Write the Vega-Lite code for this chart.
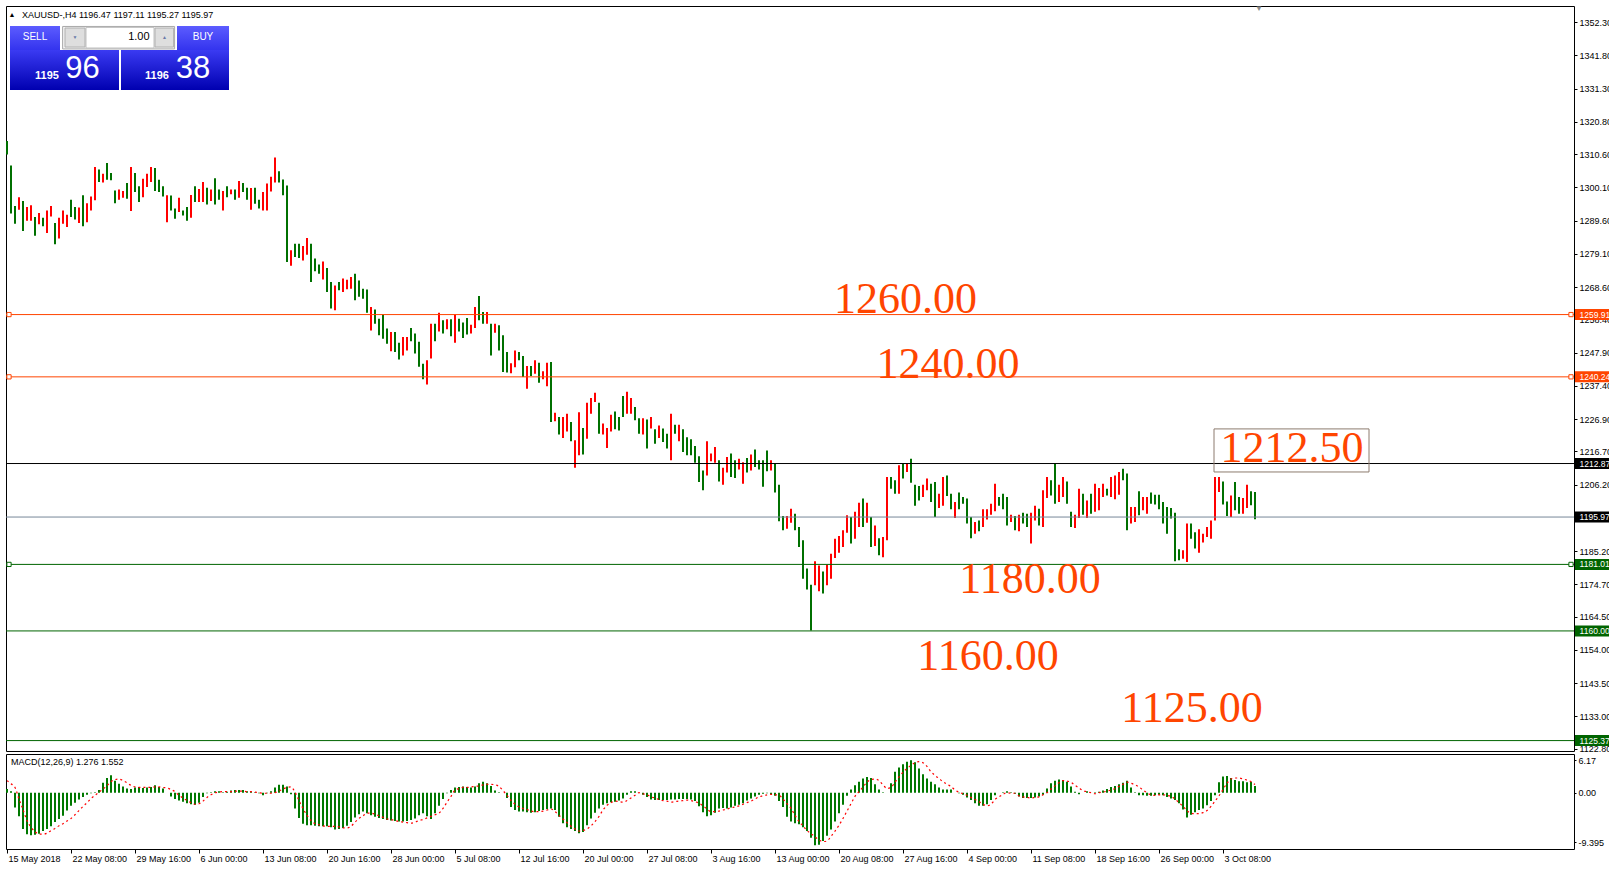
{
"$schema":"https://vega.github.io/schema/vega-lite/v6.json",
"background":"white",
"padding":{"left":4,"top":4,"right":0,"bottom":0},
"spacing":3,
"bounds":"flush",
"config":{"view":{"stroke":"#000000","strokeWidth":1},"axis":{"labelFont":"Liberation Sans","labelFontSize":9,"labelColor":"#000000","tickColor":"#000000","domain":false,"grid":false,"labelOverlap":false,"labelSeparation":0},"axisY":{"labelOverlap":false},"text":{"font":"Liberation Sans"}},
"datasets":{
"levels":[
{"price":1259.91,"kind":"target","sel":true},
{"price":1240.24,"kind":"target","sel":true},
{"price":1212.87,"kind":"level","sel":false},
{"price":1195.97,"kind":"bid","sel":false},
{"price":1181.01,"kind":"support","sel":true},
{"price":1160.00,"kind":"support","sel":false},
{"price":1125.37,"kind":"support","sel":false}],
"notes":[
{"note":"1260.00","i":449.3,"p":1264.5},
{"note":"1240.00","i":470.5,"p":1244.0},
{"note":"1212.50","i":642.5,"p":1217.3},
{"note":"1180.00","i":511.5,"p":1176.2},
{"note":"1160.00","i":490.5,"p":1151.7},
{"note":"1125.00","i":592.5,"p":1135.3}],
"bars":[
{"i":0,"hi":1314.7,"lo":1310.5,"dir":"dn","macd":0.7,"signal":2.3},
{"i":2,"hi":1307.0,"lo":1291.8,"dir":"dn","macd":0.3,"signal":1.7},
{"i":4,"hi":1294.2,"lo":1288.6,"dir":"dn","macd":-2.8,"signal":1.0},
{"i":6,"hi":1297.0,"lo":1293.0,"dir":"up","macd":-4.5,"signal":-1.2},
{"i":8,"hi":1295.8,"lo":1286.3,"dir":"dn","macd":-6.9,"signal":-3.2},
{"i":10,"hi":1293.9,"lo":1289.5,"dir":"up","macd":-7.9,"signal":-5.3},
{"i":12,"hi":1294.4,"lo":1289.5,"dir":"up","macd":-8.1,"signal":-6.6},
{"i":14,"hi":1290.7,"lo":1284.8,"dir":"dn","macd":-8.0,"signal":-7.4},
{"i":16,"hi":1292.0,"lo":1288.4,"dir":"up","macd":-7.8,"signal":-7.9},
{"i":18,"hi":1290.5,"lo":1287.8,"dir":"dn","macd":-7.3,"signal":-7.9},
{"i":20,"hi":1292.8,"lo":1285.7,"dir":"up","macd":-6.9,"signal":-7.7},
{"i":22,"hi":1294.2,"lo":1290.9,"dir":"up","macd":-6.4,"signal":-7.2},
{"i":24,"hi":1288.8,"lo":1282.1,"dir":"dn","macd":-5.6,"signal":-6.8},
{"i":26,"hi":1290.5,"lo":1283.9,"dir":"up","macd":-5.0,"signal":-6.3},
{"i":28,"hi":1292.8,"lo":1288.6,"dir":"up","macd":-4.4,"signal":-5.9},
{"i":30,"hi":1291.4,"lo":1287.6,"dir":"up","macd":-3.4,"signal":-5.4},
{"i":32,"hi":1296.2,"lo":1290.7,"dir":"dn","macd":-2.5,"signal":-4.9},
{"i":34,"hi":1293.9,"lo":1289.9,"dir":"dn","macd":-1.9,"signal":-4.2},
{"i":36,"hi":1293.7,"lo":1288.8,"dir":"up","macd":-1.3,"signal":-3.4},
{"i":38,"hi":1297.6,"lo":1287.8,"dir":"dn","macd":-0.8,"signal":-2.6},
{"i":40,"hi":1295.1,"lo":1289.1,"dir":"up","macd":-0.4,"signal":-1.9},
{"i":42,"hi":1297.2,"lo":1292.8,"dir":"up","macd":-0.1,"signal":-1.1},
{"i":44,"hi":1306.5,"lo":1296.0,"dir":"up","macd":0.1,"signal":-0.5},
{"i":46,"hi":1305.7,"lo":1301.8,"dir":"dn","macd":0.5,"signal":0.1},
{"i":48,"hi":1304.4,"lo":1301.6,"dir":"up","macd":1.9,"signal":0.7},
{"i":50,"hi":1307.8,"lo":1302.5,"dir":"dn","macd":2.8,"signal":1.3},
{"i":52,"hi":1304.6,"lo":1302.3,"dir":"dn","macd":3.3,"signal":2.1},
{"i":54,"hi":1299.1,"lo":1295.1,"dir":"dn","macd":2.3,"signal":2.5},
{"i":56,"hi":1299.4,"lo":1296.2,"dir":"up","macd":1.7,"signal":2.6},
{"i":58,"hi":1298.9,"lo":1296.8,"dir":"up","macd":1.2,"signal":2.3},
{"i":60,"hi":1301.5,"lo":1296.5,"dir":"dn","macd":0.8,"signal":1.9},
{"i":62,"hi":1306.5,"lo":1292.6,"dir":"up","macd":0.7,"signal":1.4},
{"i":64,"hi":1304.6,"lo":1298.6,"dir":"dn","macd":1.0,"signal":1.1},
{"i":66,"hi":1300.4,"lo":1295.5,"dir":"dn","macd":1.1,"signal":1.0},
{"i":68,"hi":1302.8,"lo":1297.0,"dir":"up","macd":0.9,"signal":1.0},
{"i":70,"hi":1304.4,"lo":1300.2,"dir":"up","macd":1.0,"signal":1.0},
{"i":72,"hi":1306.5,"lo":1301.8,"dir":"up","macd":1.1,"signal":1.0},
{"i":74,"hi":1306.2,"lo":1298.9,"dir":"dn","macd":1.4,"signal":1.1},
{"i":76,"hi":1302.5,"lo":1298.6,"dir":"dn","macd":1.1,"signal":1.1},
{"i":78,"hi":1300.4,"lo":1297.2,"dir":"dn","macd":0.8,"signal":1.0},
{"i":80,"hi":1297.6,"lo":1289.1,"dir":"up","macd":0.0,"signal":0.9},
{"i":82,"hi":1297.5,"lo":1292.8,"dir":"dn","macd":-0.7,"signal":0.6},
{"i":84,"hi":1293.4,"lo":1290.2,"dir":"dn","macd":-1.2,"signal":0.2},
{"i":86,"hi":1296.8,"lo":1292.3,"dir":"up","macd":-1.5,"signal":-0.5},
{"i":88,"hi":1292.8,"lo":1291.2,"dir":"dn","macd":-1.7,"signal":-1.0},
{"i":90,"hi":1293.9,"lo":1289.5,"dir":"dn","macd":-2.0,"signal":-1.5},
{"i":92,"hi":1297.7,"lo":1290.5,"dir":"up","macd":-2.2,"signal":-1.9},
{"i":94,"hi":1300.4,"lo":1295.5,"dir":"dn","macd":-2.3,"signal":-2.2},
{"i":96,"hi":1299.6,"lo":1295.5,"dir":"up","macd":-1.9,"signal":-2.1},
{"i":98,"hi":1301.8,"lo":1295.5,"dir":"up","macd":-0.8,"signal":-1.6},
{"i":100,"hi":1300.0,"lo":1294.7,"dir":"dn","macd":-0.1,"signal":-0.9},
{"i":102,"hi":1299.4,"lo":1295.8,"dir":"up","macd":0.1,"signal":-0.4},
{"i":104,"hi":1303.0,"lo":1294.7,"dir":"dn","macd":0.3,"signal":0.0},
{"i":106,"hi":1299.4,"lo":1296.2,"dir":"dn","macd":0.3,"signal":0.1},
{"i":108,"hi":1298.9,"lo":1292.8,"dir":"up","macd":0.1,"signal":0.2},
{"i":110,"hi":1300.4,"lo":1297.0,"dir":"dn","macd":0.2,"signal":0.2},
{"i":112,"hi":1299.4,"lo":1297.9,"dir":"up","macd":0.4,"signal":0.2},
{"i":114,"hi":1299.4,"lo":1296.2,"dir":"dn","macd":0.5,"signal":0.3},
{"i":116,"hi":1302.1,"lo":1296.8,"dir":"up","macd":0.5,"signal":0.3},
{"i":118,"hi":1301.5,"lo":1298.6,"dir":"dn","macd":0.5,"signal":0.3},
{"i":120,"hi":1300.0,"lo":1296.2,"dir":"dn","macd":0.3,"signal":0.2},
{"i":122,"hi":1299.9,"lo":1293.0,"dir":"up","macd":0.2,"signal":0.2},
{"i":124,"hi":1300.0,"lo":1294.9,"dir":"dn","macd":0.1,"signal":0.1},
{"i":126,"hi":1296.2,"lo":1293.4,"dir":"dn","macd":-0.1,"signal":0.0},
{"i":128,"hi":1298.6,"lo":1292.8,"dir":"up","macd":-0.5,"signal":-0.1},
{"i":130,"hi":1301.3,"lo":1292.8,"dir":"up","macd":-0.1,"signal":-0.1},
{"i":132,"hi":1303.4,"lo":1298.8,"dir":"up","macd":0.3,"signal":-0.1},
{"i":134,"hi":1309.5,"lo":1301.6,"dir":"up","macd":1.0,"signal":0.0},
{"i":136,"hi":1305.2,"lo":1301.6,"dir":"dn","macd":1.5,"signal":0.3},
{"i":138,"hi":1302.6,"lo":1297.6,"dir":"dn","macd":1.5,"signal":0.7},
{"i":140,"hi":1300.7,"lo":1276.5,"dir":"dn","macd":1.2,"signal":1.0},
{"i":142,"hi":1280.2,"lo":1275.3,"dir":"up","macd":-0.3,"signal":1.1},
{"i":144,"hi":1282.3,"lo":1278.1,"dir":"dn","macd":-3.0,"signal":0.1},
{"i":146,"hi":1282.3,"lo":1277.8,"dir":"dn","macd":-4.8,"signal":-1.5},
{"i":148,"hi":1281.6,"lo":1277.0,"dir":"up","macd":-5.9,"signal":-3.0},
{"i":150,"hi":1284.1,"lo":1278.8,"dir":"up","macd":-6.2,"signal":-4.3},
{"i":152,"hi":1282.3,"lo":1270.2,"dir":"dn","macd":-6.2,"signal":-5.3},
{"i":154,"hi":1277.6,"lo":1273.6,"dir":"dn","macd":-6.3,"signal":-5.9},
{"i":156,"hi":1275.7,"lo":1272.8,"dir":"dn","macd":-6.4,"signal":-6.1},
{"i":158,"hi":1276.7,"lo":1271.0,"dir":"up","macd":-6.4,"signal":-6.3},
{"i":160,"hi":1274.6,"lo":1267.0,"dir":"dn","macd":-6.4,"signal":-6.4},
{"i":162,"hi":1270.2,"lo":1261.8,"dir":"dn","macd":-6.6,"signal":-6.4},
{"i":164,"hi":1269.1,"lo":1261.3,"dir":"up","macd":-7.0,"signal":-6.4},
{"i":166,"hi":1270.2,"lo":1267.6,"dir":"dn","macd":-6.9,"signal":-6.5},
{"i":168,"hi":1271.3,"lo":1267.0,"dir":"up","macd":-6.7,"signal":-6.7},
{"i":170,"hi":1270.9,"lo":1267.9,"dir":"up","macd":-6.3,"signal":-6.7},
{"i":172,"hi":1271.8,"lo":1268.1,"dir":"up","macd":-5.6,"signal":-6.4},
{"i":174,"hi":1272.8,"lo":1264.4,"dir":"dn","macd":-4.7,"signal":-5.6},
{"i":176,"hi":1270.7,"lo":1265.5,"dir":"dn","macd":-4.1,"signal":-4.9},
{"i":178,"hi":1268.1,"lo":1264.9,"dir":"dn","macd":-3.6,"signal":-4.4},
{"i":180,"hi":1267.8,"lo":1260.5,"dir":"dn","macd":-3.9,"signal":-3.9},
{"i":182,"hi":1262.3,"lo":1254.9,"dir":"up","macd":-4.3,"signal":-3.9},
{"i":184,"hi":1261.5,"lo":1257.0,"dir":"dn","macd":-4.6,"signal":-4.1},
{"i":186,"hi":1258.6,"lo":1253.4,"dir":"dn","macd":-4.8,"signal":-4.4},
{"i":188,"hi":1259.9,"lo":1252.3,"dir":"dn","macd":-5.0,"signal":-4.7},
{"i":190,"hi":1255.5,"lo":1250.7,"dir":"dn","macd":-5.2,"signal":-5.0},
{"i":192,"hi":1254.4,"lo":1248.3,"dir":"up","macd":-5.3,"signal":-5.1},
{"i":194,"hi":1254.4,"lo":1248.1,"dir":"dn","macd":-5.4,"signal":-5.3},
{"i":196,"hi":1251.0,"lo":1245.7,"dir":"dn","macd":-5.5,"signal":-5.5},
{"i":198,"hi":1252.8,"lo":1247.0,"dir":"up","macd":-5.5,"signal":-5.6},
{"i":200,"hi":1252.8,"lo":1248.6,"dir":"up","macd":-5.4,"signal":-5.7},
{"i":202,"hi":1255.7,"lo":1251.5,"dir":"dn","macd":-5.2,"signal":-5.8},
{"i":204,"hi":1253.9,"lo":1247.6,"dir":"dn","macd":-4.9,"signal":-5.6},
{"i":206,"hi":1251.3,"lo":1243.4,"dir":"dn","macd":-4.3,"signal":-5.3},
{"i":208,"hi":1244.4,"lo":1239.5,"dir":"dn","macd":-3.9,"signal":-5.1},
{"i":210,"hi":1245.5,"lo":1237.8,"dir":"up","macd":-4.5,"signal":-4.8},
{"i":212,"hi":1257.0,"lo":1246.0,"dir":"up","macd":-5.0,"signal":-4.5},
{"i":214,"hi":1257.0,"lo":1251.5,"dir":"dn","macd":-3.9,"signal":-4.2},
{"i":216,"hi":1260.5,"lo":1254.6,"dir":"up","macd":-2.5,"signal":-3.9},
{"i":218,"hi":1258.1,"lo":1253.9,"dir":"dn","macd":-1.2,"signal":-3.0},
{"i":220,"hi":1258.4,"lo":1255.3,"dir":"up","macd":-0.1,"signal":-1.8},
{"i":222,"hi":1258.4,"lo":1253.1,"dir":"dn","macd":0.5,"signal":-0.7},
{"i":224,"hi":1259.9,"lo":1251.0,"dir":"up","macd":1.0,"signal":0.5},
{"i":226,"hi":1258.6,"lo":1254.6,"dir":"dn","macd":1.1,"signal":0.8},
{"i":228,"hi":1257.4,"lo":1252.5,"dir":"dn","macd":1.2,"signal":1.0},
{"i":230,"hi":1258.8,"lo":1253.6,"dir":"dn","macd":1.1,"signal":1.0},
{"i":232,"hi":1256.7,"lo":1253.9,"dir":"up","macd":1.0,"signal":1.1},
{"i":234,"hi":1262.3,"lo":1255.7,"dir":"up","macd":1.2,"signal":1.2},
{"i":236,"hi":1265.8,"lo":1258.1,"dir":"dn","macd":1.8,"signal":1.3},
{"i":238,"hi":1260.7,"lo":1257.0,"dir":"dn","macd":2.1,"signal":1.5},
{"i":240,"hi":1260.7,"lo":1257.0,"dir":"up","macd":1.8,"signal":1.6},
{"i":242,"hi":1257.0,"lo":1247.0,"dir":"dn","macd":1.3,"signal":1.6},
{"i":244,"hi":1257.0,"lo":1254.2,"dir":"up","macd":0.4,"signal":1.5},
{"i":246,"hi":1256.5,"lo":1248.6,"dir":"dn","macd":0.1,"signal":1.2},
{"i":248,"hi":1253.4,"lo":1241.8,"dir":"dn","macd":0.0,"signal":0.4},
{"i":250,"hi":1248.1,"lo":1241.6,"dir":"dn","macd":-1.0,"signal":-0.5},
{"i":252,"hi":1244.5,"lo":1241.4,"dir":"up","macd":-2.7,"signal":-1.5},
{"i":254,"hi":1248.6,"lo":1243.3,"dir":"up","macd":-3.3,"signal":-2.2},
{"i":256,"hi":1248.1,"lo":1245.5,"dir":"dn","macd":-3.6,"signal":-2.7},
{"i":258,"hi":1246.8,"lo":1240.2,"dir":"dn","macd":-3.6,"signal":-3.0},
{"i":260,"hi":1243.7,"lo":1236.5,"dir":"up","macd":-3.7,"signal":-3.2},
{"i":262,"hi":1243.7,"lo":1240.5,"dir":"dn","macd":-3.8,"signal":-3.5},
{"i":264,"hi":1245.5,"lo":1241.2,"dir":"up","macd":-3.7,"signal":-3.6},
{"i":266,"hi":1244.7,"lo":1238.4,"dir":"dn","macd":-3.5,"signal":-3.6},
{"i":268,"hi":1242.0,"lo":1239.5,"dir":"up","macd":-3.3,"signal":-3.5},
{"i":270,"hi":1244.7,"lo":1237.3,"dir":"up","macd":-3.1,"signal":-3.3},
{"i":272,"hi":1244.9,"lo":1226.0,"dir":"dn","macd":-3.0,"signal":-3.1},
{"i":274,"hi":1228.9,"lo":1226.2,"dir":"up","macd":-3.3,"signal":-3.6},
{"i":276,"hi":1227.6,"lo":1222.0,"dir":"dn","macd":-4.6,"signal":-4.3},
{"i":278,"hi":1227.6,"lo":1220.9,"dir":"up","macd":-5.8,"signal":-5.0},
{"i":280,"hi":1228.6,"lo":1223.0,"dir":"up","macd":-6.6,"signal":-5.7},
{"i":282,"hi":1226.0,"lo":1219.9,"dir":"dn","macd":-6.9,"signal":-6.4},
{"i":284,"hi":1220.2,"lo":1211.5,"dir":"up","macd":-7.3,"signal":-6.9},
{"i":286,"hi":1229.1,"lo":1215.5,"dir":"up","macd":-7.7,"signal":-7.3},
{"i":288,"hi":1224.1,"lo":1215.7,"dir":"dn","macd":-7.5,"signal":-7.2},
{"i":290,"hi":1232.1,"lo":1220.7,"dir":"up","macd":-6.2,"signal":-6.9},
{"i":292,"hi":1233.6,"lo":1228.6,"dir":"up","macd":-4.9,"signal":-6.3},
{"i":294,"hi":1235.2,"lo":1232.3,"dir":"up","macd":-3.8,"signal":-5.5},
{"i":296,"hi":1232.1,"lo":1222.3,"dir":"dn","macd":-3.0,"signal":-4.5},
{"i":298,"hi":1225.5,"lo":1222.0,"dir":"up","macd":-2.3,"signal":-3.3},
{"i":300,"hi":1224.1,"lo":1217.8,"dir":"up","macd":-2.0,"signal":-2.4},
{"i":302,"hi":1228.3,"lo":1223.0,"dir":"up","macd":-1.8,"signal":-1.9},
{"i":304,"hi":1229.3,"lo":1223.7,"dir":"dn","macd":-1.7,"signal":-1.6},
{"i":306,"hi":1227.6,"lo":1223.3,"dir":"dn","macd":-1.5,"signal":-1.7},
{"i":308,"hi":1234.2,"lo":1227.6,"dir":"dn","macd":-1.1,"signal":-1.8},
{"i":310,"hi":1235.5,"lo":1228.6,"dir":"up","macd":-0.4,"signal":-1.5},
{"i":312,"hi":1233.6,"lo":1228.6,"dir":"up","macd":0.3,"signal":-1.0},
{"i":314,"hi":1230.7,"lo":1226.5,"dir":"dn","macd":0.3,"signal":-0.5},
{"i":316,"hi":1227.2,"lo":1222.3,"dir":"dn","macd":0.0,"signal":0.0},
{"i":318,"hi":1227.2,"lo":1222.0,"dir":"up","macd":-0.4,"signal":-0.2},
{"i":320,"hi":1226.8,"lo":1217.6,"dir":"dn","macd":-0.8,"signal":-0.4},
{"i":322,"hi":1227.6,"lo":1223.9,"dir":"up","macd":-1.3,"signal":-0.8},
{"i":324,"hi":1223.7,"lo":1219.1,"dir":"dn","macd":-1.4,"signal":-1.0},
{"i":326,"hi":1224.9,"lo":1220.9,"dir":"up","macd":-1.4,"signal":-1.3},
{"i":328,"hi":1223.9,"lo":1219.7,"dir":"dn","macd":-1.4,"signal":-1.5},
{"i":330,"hi":1222.3,"lo":1217.6,"dir":"dn","macd":-1.4,"signal":-1.6},
{"i":332,"hi":1228.6,"lo":1213.9,"dir":"up","macd":-1.3,"signal":-1.8},
{"i":334,"hi":1225.1,"lo":1222.3,"dir":"dn","macd":-1.3,"signal":-1.7},
{"i":336,"hi":1225.1,"lo":1219.9,"dir":"up","macd":-1.2,"signal":-1.6},
{"i":338,"hi":1223.7,"lo":1216.5,"dir":"dn","macd":-1.2,"signal":-1.5},
{"i":340,"hi":1221.2,"lo":1215.5,"dir":"dn","macd":-1.2,"signal":-1.4},
{"i":342,"hi":1220.5,"lo":1215.5,"dir":"dn","macd":-1.3,"signal":-1.5},
{"i":344,"hi":1218.4,"lo":1213.1,"dir":"dn","macd":-1.6,"signal":-1.7},
{"i":346,"hi":1215.2,"lo":1207.0,"dir":"dn","macd":-2.6,"signal":-2.0},
{"i":348,"hi":1210.7,"lo":1204.4,"dir":"dn","macd":-3.7,"signal":-2.5},
{"i":350,"hi":1219.9,"lo":1209.1,"dir":"up","macd":-4.5,"signal":-3.1},
{"i":352,"hi":1216.0,"lo":1213.6,"dir":"up","macd":-4.3,"signal":-3.6},
{"i":354,"hi":1218.1,"lo":1213.1,"dir":"up","macd":-3.8,"signal":-3.6},
{"i":356,"hi":1213.9,"lo":1207.2,"dir":"dn","macd":-3.0,"signal":-3.5},
{"i":358,"hi":1211.5,"lo":1206.2,"dir":"up","macd":-2.9,"signal":-3.3},
{"i":360,"hi":1214.9,"lo":1210.0,"dir":"up","macd":-3.0,"signal":-3.1},
{"i":362,"hi":1216.0,"lo":1208.6,"dir":"dn","macd":-2.8,"signal":-2.9},
{"i":364,"hi":1213.9,"lo":1208.3,"dir":"dn","macd":-2.5,"signal":-2.7},
{"i":366,"hi":1214.4,"lo":1211.0,"dir":"up","macd":-2.3,"signal":-2.5},
{"i":368,"hi":1213.3,"lo":1206.5,"dir":"up","macd":-2.0,"signal":-2.2},
{"i":370,"hi":1214.6,"lo":1210.0,"dir":"dn","macd":-1.5,"signal":-1.9},
{"i":372,"hi":1215.7,"lo":1210.7,"dir":"up","macd":-1.1,"signal":-1.6},
{"i":374,"hi":1217.3,"lo":1211.8,"dir":"dn","macd":-0.7,"signal":-1.2},
{"i":376,"hi":1213.9,"lo":1211.0,"dir":"dn","macd":-0.4,"signal":-0.8},
{"i":378,"hi":1213.9,"lo":1205.5,"dir":"dn","macd":-0.2,"signal":-0.6},
{"i":380,"hi":1217.0,"lo":1210.4,"dir":"dn","macd":-0.1,"signal":-0.4},
{"i":382,"hi":1213.9,"lo":1210.7,"dir":"up","macd":-0.3,"signal":-0.3},
{"i":384,"hi":1212.8,"lo":1203.7,"dir":"dn","macd":-0.6,"signal":-0.4},
{"i":386,"hi":1206.2,"lo":1194.6,"dir":"dn","macd":-1.6,"signal":-0.5},
{"i":388,"hi":1196.3,"lo":1191.8,"dir":"dn","macd":-2.7,"signal":-1.2},
{"i":390,"hi":1196.3,"lo":1192.3,"dir":"up","macd":-4.6,"signal":-2.1},
{"i":392,"hi":1198.6,"lo":1194.2,"dir":"up","macd":-5.5,"signal":-3.0},
{"i":394,"hi":1197.0,"lo":1191.8,"dir":"dn","macd":-5.8,"signal":-4.3},
{"i":396,"hi":1192.8,"lo":1186.5,"dir":"dn","macd":-6.0,"signal":-5.5},
{"i":398,"hi":1188.6,"lo":1176.5,"dir":"dn","macd":-6.6,"signal":-6.3},
{"i":400,"hi":1179.7,"lo":1173.1,"dir":"dn","macd":-7.3,"signal":-7.2},
{"i":402,"hi":1174.6,"lo":1160.1,"dir":"dn","macd":-8.6,"signal":-7.8},
{"i":404,"hi":1182.0,"lo":1174.4,"dir":"up","macd":-10.0,"signal":-8.4},
{"i":406,"hi":1180.7,"lo":1172.5,"dir":"up","macd":-9.9,"signal":-9.0},
{"i":408,"hi":1178.8,"lo":1171.8,"dir":"dn","macd":-9.2,"signal":-9.3},
{"i":410,"hi":1180.9,"lo":1174.4,"dir":"up","macd":-8.2,"signal":-9.2},
{"i":412,"hi":1184.4,"lo":1176.5,"dir":"up","macd":-7.0,"signal":-8.3},
{"i":414,"hi":1189.1,"lo":1183.0,"dir":"up","macd":-5.5,"signal":-7.3},
{"i":416,"hi":1190.0,"lo":1184.7,"dir":"up","macd":-3.9,"signal":-6.2},
{"i":418,"hi":1191.8,"lo":1186.5,"dir":"up","macd":-2.3,"signal":-4.9},
{"i":420,"hi":1196.5,"lo":1191.0,"dir":"up","macd":-0.6,"signal":-3.5},
{"i":422,"hi":1196.0,"lo":1187.6,"dir":"dn","macd":0.6,"signal":-2.1},
{"i":424,"hi":1197.6,"lo":1189.1,"dir":"up","macd":1.4,"signal":-0.7},
{"i":426,"hi":1200.5,"lo":1192.8,"dir":"up","macd":2.1,"signal":0.2},
{"i":428,"hi":1201.8,"lo":1192.8,"dir":"dn","macd":2.7,"signal":1.1},
{"i":430,"hi":1200.5,"lo":1194.2,"dir":"up","macd":3.0,"signal":2.0},
{"i":432,"hi":1196.0,"lo":1186.5,"dir":"dn","macd":2.8,"signal":2.5},
{"i":434,"hi":1193.3,"lo":1186.8,"dir":"up","macd":1.6,"signal":2.6},
{"i":436,"hi":1189.3,"lo":1183.9,"dir":"dn","macd":0.6,"signal":2.3},
{"i":438,"hi":1189.7,"lo":1183.3,"dir":"up","macd":0.1,"signal":1.5},
{"i":440,"hi":1208.6,"lo":1188.6,"dir":"up","macd":0.0,"signal":0.8},
{"i":442,"hi":1208.6,"lo":1204.9,"dir":"dn","macd":1.8,"signal":1.0},
{"i":444,"hi":1207.6,"lo":1203.3,"dir":"dn","macd":4.0,"signal":2.0},
{"i":446,"hi":1212.3,"lo":1203.3,"dir":"up","macd":4.8,"signal":3.0},
{"i":448,"hi":1212.8,"lo":1208.1,"dir":"dn","macd":5.4,"signal":3.9},
{"i":450,"hi":1212.8,"lo":1210.2,"dir":"up","macd":5.9,"signal":4.6},
{"i":452,"hi":1214.4,"lo":1206.8,"dir":"dn","macd":6.2,"signal":5.2},
{"i":454,"hi":1206.2,"lo":1199.5,"dir":"dn","macd":5.8,"signal":5.7},
{"i":456,"hi":1205.8,"lo":1201.2,"dir":"dn","macd":4.6,"signal":5.9},
{"i":458,"hi":1206.2,"lo":1202.3,"dir":"up","macd":3.5,"signal":5.7},
{"i":460,"hi":1208.1,"lo":1204.4,"dir":"up","macd":2.7,"signal":5.0},
{"i":462,"hi":1206.5,"lo":1200.7,"dir":"dn","macd":2.1,"signal":4.0},
{"i":464,"hi":1207.0,"lo":1196.0,"dir":"dn","macd":1.6,"signal":3.3},
{"i":466,"hi":1203.3,"lo":1198.8,"dir":"up","macd":1.0,"signal":2.7},
{"i":468,"hi":1208.6,"lo":1199.5,"dir":"up","macd":0.6,"signal":2.1},
{"i":470,"hi":1209.1,"lo":1202.6,"dir":"dn","macd":0.6,"signal":1.6},
{"i":472,"hi":1203.3,"lo":1198.4,"dir":"dn","macd":0.6,"signal":1.2},
{"i":474,"hi":1200.7,"lo":1195.7,"dir":"up","macd":0.0,"signal":0.5},
{"i":476,"hi":1203.7,"lo":1198.4,"dir":"dn","macd":-0.1,"signal":0.1},
{"i":478,"hi":1202.3,"lo":1200.2,"dir":"dn","macd":-0.4,"signal":-0.2},
{"i":480,"hi":1201.8,"lo":1193.9,"dir":"dn","macd":-0.9,"signal":-0.5},
{"i":482,"hi":1196.0,"lo":1189.3,"dir":"dn","macd":-1.4,"signal":-0.9},
{"i":484,"hi":1194.4,"lo":1190.7,"dir":"up","macd":-2.0,"signal":-1.3},
{"i":486,"hi":1194.9,"lo":1191.5,"dir":"dn","macd":-2.5,"signal":-1.7},
{"i":488,"hi":1198.4,"lo":1192.8,"dir":"up","macd":-2.5,"signal":-2.2},
{"i":490,"hi":1198.4,"lo":1195.2,"dir":"up","macd":-2.2,"signal":-2.5},
{"i":492,"hi":1200.2,"lo":1196.7,"dir":"up","macd":-1.4,"signal":-2.2},
{"i":494,"hi":1206.5,"lo":1197.8,"dir":"up","macd":-0.5,"signal":-1.3},
{"i":496,"hi":1202.3,"lo":1199.5,"dir":"dn","macd":0.0,"signal":-0.8},
{"i":498,"hi":1203.3,"lo":1198.4,"dir":"dn","macd":0.1,"signal":-0.3},
{"i":500,"hi":1202.3,"lo":1193.3,"dir":"dn","macd":0.3,"signal":0.0},
{"i":502,"hi":1196.7,"lo":1194.4,"dir":"up","macd":0.1,"signal":-0.1},
{"i":504,"hi":1196.3,"lo":1191.8,"dir":"dn","macd":-0.2,"signal":-0.1},
{"i":506,"hi":1196.7,"lo":1191.5,"dir":"up","macd":-0.7,"signal":-0.6},
{"i":508,"hi":1197.3,"lo":1193.9,"dir":"dn","macd":-1.0,"signal":-0.8},
{"i":510,"hi":1197.0,"lo":1192.8,"dir":"dn","macd":-1.0,"signal":-0.9},
{"i":512,"hi":1197.3,"lo":1187.6,"dir":"up","macd":-1.0,"signal":-1.0},
{"i":514,"hi":1199.5,"lo":1194.9,"dir":"up","macd":-0.9,"signal":-0.9},
{"i":516,"hi":1198.6,"lo":1193.3,"dir":"dn","macd":-0.7,"signal":-0.8},
{"i":518,"hi":1204.4,"lo":1192.8,"dir":"up","macd":-0.4,"signal":-0.4},
{"i":520,"hi":1208.6,"lo":1202.0,"dir":"up","macd":0.8,"signal":0.0},
{"i":522,"hi":1207.6,"lo":1202.8,"dir":"dn","macd":1.8,"signal":0.7},
{"i":524,"hi":1212.9,"lo":1200.2,"dir":"dn","macd":2.3,"signal":1.3},
{"i":526,"hi":1206.2,"lo":1200.7,"dir":"up","macd":2.5,"signal":1.9},
{"i":528,"hi":1208.6,"lo":1202.3,"dir":"up","macd":2.4,"signal":2.3},
{"i":530,"hi":1207.2,"lo":1200.2,"dir":"dn","macd":2.1,"signal":2.2},
{"i":532,"hi":1197.6,"lo":1192.8,"dir":"dn","macd":1.2,"signal":2.0},
{"i":534,"hi":1196.7,"lo":1192.5,"dir":"up","macd":0.2,"signal":1.4},
{"i":536,"hi":1204.9,"lo":1195.7,"dir":"up","macd":-0.3,"signal":0.9},
{"i":538,"hi":1203.3,"lo":1196.7,"dir":"dn","macd":0.0,"signal":0.4},
{"i":540,"hi":1201.2,"lo":1195.7,"dir":"up","macd":0.3,"signal":0.2},
{"i":542,"hi":1203.3,"lo":1197.0,"dir":"dn","macd":0.0,"signal":0.0},
{"i":544,"hi":1206.5,"lo":1197.6,"dir":"up","macd":0.1,"signal":-0.2},
{"i":546,"hi":1205.1,"lo":1198.1,"dir":"up","macd":0.2,"signal":0.0},
{"i":548,"hi":1206.5,"lo":1202.3,"dir":"up","macd":0.4,"signal":0.1},
{"i":550,"hi":1204.9,"lo":1202.8,"dir":"dn","macd":0.7,"signal":0.3},
{"i":552,"hi":1208.6,"lo":1202.3,"dir":"up","macd":1.1,"signal":0.5},
{"i":554,"hi":1209.1,"lo":1201.6,"dir":"up","macd":1.3,"signal":0.8},
{"i":556,"hi":1210.2,"lo":1203.0,"dir":"up","macd":1.6,"signal":1.2},
{"i":558,"hi":1211.2,"lo":1207.6,"dir":"dn","macd":1.9,"signal":1.6},
{"i":560,"hi":1209.7,"lo":1191.8,"dir":"dn","macd":2.3,"signal":2.0},
{"i":562,"hi":1199.1,"lo":1193.9,"dir":"up","macd":1.0,"signal":1.8},
{"i":564,"hi":1199.1,"lo":1194.4,"dir":"up","macd":0.1,"signal":1.5},
{"i":566,"hi":1204.1,"lo":1196.5,"dir":"dn","macd":-0.5,"signal":1.1},
{"i":568,"hi":1202.3,"lo":1198.1,"dir":"up","macd":-0.5,"signal":0.5},
{"i":570,"hi":1202.3,"lo":1197.0,"dir":"up","macd":-0.6,"signal":0.0},
{"i":572,"hi":1203.7,"lo":1200.2,"dir":"dn","macd":-0.6,"signal":-0.4},
{"i":574,"hi":1203.0,"lo":1199.9,"dir":"dn","macd":-0.5,"signal":-0.5},
{"i":576,"hi":1203.0,"lo":1198.4,"dir":"dn","macd":-0.4,"signal":-0.4},
{"i":578,"hi":1200.7,"lo":1193.9,"dir":"dn","macd":-0.5,"signal":-0.4},
{"i":580,"hi":1199.1,"lo":1190.7,"dir":"dn","macd":-0.8,"signal":-0.5},
{"i":582,"hi":1198.8,"lo":1195.5,"dir":"dn","macd":-1.1,"signal":-0.7},
{"i":584,"hi":1197.3,"lo":1182.0,"dir":"dn","macd":-1.4,"signal":-1.2},
{"i":586,"hi":1185.8,"lo":1182.3,"dir":"dn","macd":-2.0,"signal":-1.9},
{"i":588,"hi":1185.5,"lo":1182.8,"dir":"up","macd":-3.2,"signal":-2.6},
{"i":590,"hi":1193.9,"lo":1181.8,"dir":"up","macd":-4.7,"signal":-3.4},
{"i":592,"hi":1193.9,"lo":1189.1,"dir":"dn","macd":-4.2,"signal":-3.9},
{"i":594,"hi":1191.2,"lo":1186.0,"dir":"dn","macd":-3.7,"signal":-4.0},
{"i":596,"hi":1192.1,"lo":1184.7,"dir":"up","macd":-3.3,"signal":-4.0},
{"i":598,"hi":1190.7,"lo":1187.9,"dir":"up","macd":-3.0,"signal":-3.8},
{"i":600,"hi":1192.8,"lo":1189.7,"dir":"up","macd":-2.4,"signal":-3.4},
{"i":602,"hi":1194.9,"lo":1189.1,"dir":"up","macd":-1.6,"signal":-2.6},
{"i":604,"hi":1208.6,"lo":1194.9,"dir":"up","macd":-0.5,"signal":-1.6},
{"i":606,"hi":1208.6,"lo":1203.9,"dir":"up","macd":2.0,"signal":-0.6},
{"i":608,"hi":1207.2,"lo":1199.9,"dir":"dn","macd":3.1,"signal":0.6},
{"i":610,"hi":1200.9,"lo":1196.3,"dir":"dn","macd":3.2,"signal":1.8},
{"i":612,"hi":1202.8,"lo":1196.0,"dir":"up","macd":2.8,"signal":2.6},
{"i":614,"hi":1207.0,"lo":1198.1,"dir":"dn","macd":2.4,"signal":2.8},
{"i":616,"hi":1202.3,"lo":1197.0,"dir":"dn","macd":2.2,"signal":2.8},
{"i":618,"hi":1202.0,"lo":1197.0,"dir":"up","macd":2.2,"signal":2.6},
{"i":620,"hi":1206.2,"lo":1198.8,"dir":"up","macd":2.0,"signal":2.4},
{"i":622,"hi":1204.1,"lo":1199.7,"dir":"dn","macd":2.1,"signal":2.1},
{"i":624,"hi":1203.9,"lo":1195.3,"dir":"dn","macd":1.276,"signal":1.552}]
},
"vconcat":[
{"width":1568,"height":745,
"resolve":{"axis":{"x":"independent","y":"independent"}},
"layer":[
{"data":{"name":"bars"},"mark":{"type":"rule","strokeWidth":2},
 "encoding":{
  "x":{"field":"i","type":"quantitative","scale":{"domain":[-0.5,783.5],"nice":false,"zero":false},"axis":null},
  "y":{"field":"lo","type":"quantitative","scale":{"domain":[1122.08,1357.36],"nice":false,"zero":false},
       "axis":{"orient":"right","title":null,"values":[1352.3,1341.8,1331.3,1320.8,1310.6,1300.1,1289.6,1279.1,1268.6,1258.4,1247.9,1237.4,1226.9,1216.7,1206.2,1195.7,1185.2,1174.7,1164.5,1154.0,1143.5,1133.0,1122.8],"format":".2f","tickSize":3,"labelPadding":2,"labelBaseline":"middle","labelOverlap":false,"labelSeparation":0,"labelBound":false,"labelFlush":false}},
  "y2":{"field":"hi"},
  "color":{"field":"dir","type":"nominal","scale":{"domain":["up","dn"],"range":["#ff0000","#007000"]},"legend":null}}},
{"data":{"name":"levels"},"mark":{"type":"rule","strokeWidth":1},
 "encoding":{"y":{"field":"price","type":"quantitative","axis":null},
  "stroke":{"field":"kind","type":"nominal","scale":{"domain":["target","level","bid","support"],"range":["#ff4500","#000000","#778899","#006400"]},"legend":null}}},
{"data":{"name":"levels"},"transform":[{"filter":"datum.sel"}],"mark":{"type":"square","size":18,"filled":false,"fill":"white","strokeWidth":1,"opacity":1},
 "encoding":{"x":{"datum":782,"type":"quantitative","axis":null},"y":{"field":"price","type":"quantitative","axis":null},"stroke":{"field":"kind","type":"nominal","legend":null}}},
{"data":{"name":"levels"},"transform":[{"filter":"datum.sel"}],"mark":{"type":"square","size":18,"filled":false,"fill":"white","strokeWidth":1,"opacity":1},
 "encoding":{"x":{"datum":1,"type":"quantitative","axis":null},"y":{"field":"price","type":"quantitative","axis":null},"stroke":{"field":"kind","type":"nominal","legend":null}}},
{"data":{"values":[{"note":"box"}]},"mark":{"type":"rect","fill":null,"fillOpacity":0,"stroke":"#8c7b6e","strokeWidth":1},
 "encoding":{"x":{"datum":603.5,"type":"quantitative","axis":null},"x2":{"datum":681},"y":{"datum":1210.2,"type":"quantitative","axis":null},"y2":{"datum":1223.8}}},
{"data":{"name":"notes"},"mark":{"type":"text","font":"Liberation Serif","fontSize":44,"color":"#ff4500","align":"center","baseline":"middle"},
 "encoding":{"x":{"field":"i","type":"quantitative","axis":null},"y":{"field":"p","type":"quantitative","axis":null},"text":{"field":"note"}}},
{"data":{"name":"levels"},"mark":{"type":"rect","yOffset":-5.5,"y2Offset":5.5},
 "encoding":{"x":{"datum":784,"type":"quantitative","axis":null},"x2":{"datum":806},"y":{"field":"price","type":"quantitative","axis":null},"y2":{"field":"price"},
  "fill":{"field":"kind","type":"nominal","scale":{"domain":["target","level","bid","support"],"range":["#ff4500","#000000","#000000","#006400"]},"legend":null}}},
{"data":{"name":"levels"},"mark":{"type":"text","align":"left","baseline":"middle","fontSize":8.5,"color":"#ffffff"},
 "encoding":{"x":{"datum":786.3,"type":"quantitative","axis":null},"y":{"field":"price","type":"quantitative","axis":null},"text":{"field":"price","type":"quantitative","format":".2f"}}},
{"data":{"values":[{"t":"title"}]},"mark":{"type":"text","text":"\u25b2","align":"center","baseline":"middle","fontSize":7,"color":"#000000"},
 "encoding":{"x":{"datum":2.5,"type":"quantitative","axis":null},"y":{"datum":1354.5,"type":"quantitative","axis":null}}},
{"data":{"values":[{"t":"title"}]},"mark":{"type":"text","text":"XAUUSD-,H4  1196.47 1197.11 1195.27 1195.97","align":"left","baseline":"middle","fontSize":9,"color":"#000000"},
 "encoding":{"x":{"datum":7.5,"type":"quantitative","axis":null},"y":{"datum":1354.5,"type":"quantitative","axis":null}}},
{"data":{"values":[{"t":"shift"}]},"mark":{"type":"text","text":"\u25bc","align":"center","baseline":"middle","fontSize":8,"color":"#8a8a8a"},
 "encoding":{"x":{"datum":626,"type":"quantitative","axis":null},"y":{"datum":1356.3,"type":"quantitative","axis":null}}},
{"data":{"values":[{"w":"sell"}]},"mark":{"type":"rect","fill":{"gradient":"linear","x1":0,"y1":0,"x2":0,"y2":1,"stops":[{"offset":0,"color":"#5c5cff"},{"offset":1,"color":"#3434ee"}]}},
 "encoding":{"x":{"datum":1.5,"type":"quantitative","axis":null},"x2":{"datum":26.5},"y":{"datum":1343.46,"type":"quantitative","axis":null},"y2":{"datum":1351.04}}},
{"data":{"values":[{"w":"buy"}]},"mark":{"type":"rect","fill":{"gradient":"linear","x1":0,"y1":0,"x2":0,"y2":1,"stops":[{"offset":0,"color":"#5c5cff"},{"offset":1,"color":"#3434ee"}]}},
 "encoding":{"x":{"datum":85,"type":"quantitative","axis":null},"x2":{"datum":111},"y":{"datum":1343.46,"type":"quantitative","axis":null},"y2":{"datum":1351.04}}},
{"data":{"values":[{"w":"bid"}]},"mark":{"type":"rect","fill":{"gradient":"linear","x1":0,"y1":0,"x2":0,"y2":1,"stops":[{"offset":0,"color":"#3a3af2"},{"offset":1,"color":"#0000b0"}]}},
 "encoding":{"x":{"datum":1.5,"type":"quantitative","axis":null},"x2":{"datum":56},"y":{"datum":1330.83,"type":"quantitative","axis":null},"y2":{"datum":1343.46}}},
{"data":{"values":[{"w":"ask"}]},"mark":{"type":"rect","fill":{"gradient":"linear","x1":0,"y1":0,"x2":0,"y2":1,"stops":[{"offset":0,"color":"#3a3af2"},{"offset":1,"color":"#0000b0"}]}},
 "encoding":{"x":{"datum":57,"type":"quantitative","axis":null},"x2":{"datum":111},"y":{"datum":1330.83,"type":"quantitative","axis":null},"y2":{"datum":1343.46}}},
{"data":{"values":[{"w":"spin"}]},"mark":{"type":"rect","fill":"#f2f2f2","stroke":"#a9a9a9","strokeWidth":1},
 "encoding":{"x":{"datum":27.8,"type":"quantitative","axis":null},"x2":{"datum":83.8},"y":{"datum":1343.8,"type":"quantitative","axis":null},"y2":{"datum":1350.9}}},
{"data":{"values":[{"w":"field"}]},"mark":{"type":"rect","fill":"#ffffff","stroke":"#c0c0c0","strokeWidth":1},
 "encoding":{"x":{"datum":39.5,"type":"quantitative","axis":null},"x2":{"datum":73.5},"y":{"datum":1344.1,"type":"quantitative","axis":null},"y2":{"datum":1350.6}}},
{"data":{"values":[{"w":"down"}]},"mark":{"type":"rect","fill":"#dedede","stroke":"#b0b0b0","strokeWidth":1},
 "encoding":{"x":{"datum":29,"type":"quantitative","axis":null},"x2":{"datum":39},"y":{"datum":1344.4,"type":"quantitative","axis":null},"y2":{"datum":1350.4}}},
{"data":{"values":[{"w":"up"}]},"mark":{"type":"rect","fill":"#dedede","stroke":"#b0b0b0","strokeWidth":1},
 "encoding":{"x":{"datum":74,"type":"quantitative","axis":null},"x2":{"datum":83.3},"y":{"datum":1344.4,"type":"quantitative","axis":null},"y2":{"datum":1350.4}}},
{"data":{"values":[{"w":"t"}]},"mark":{"type":"text","text":"\u25bc","align":"center","baseline":"middle","fontSize":5,"color":"#6a7aa8"},
 "encoding":{"x":{"datum":34,"type":"quantitative","axis":null},"y":{"datum":1347.6,"type":"quantitative","axis":null}}},
{"data":{"values":[{"w":"t"}]},"mark":{"type":"text","text":"\u25b2","align":"center","baseline":"middle","fontSize":5,"color":"#6a7aa8"},
 "encoding":{"x":{"datum":78.7,"type":"quantitative","axis":null},"y":{"datum":1347.6,"type":"quantitative","axis":null}}},
{"data":{"values":[{"w":"t"}]},"mark":{"type":"text","text":"1.00","align":"right","baseline":"middle","fontSize":11,"color":"#000000"},
 "encoding":{"x":{"datum":71.3,"type":"quantitative","axis":null},"y":{"datum":1347.6,"type":"quantitative","axis":null}}},
{"data":{"values":[{"w":"t"}]},"mark":{"type":"text","text":"SELL","align":"center","baseline":"middle","fontSize":10,"color":"#ffffff"},
 "encoding":{"x":{"datum":14,"type":"quantitative","axis":null},"y":{"datum":1347.6,"type":"quantitative","axis":null}}},
{"data":{"values":[{"w":"t"}]},"mark":{"type":"text","text":"BUY","align":"center","baseline":"middle","fontSize":10,"color":"#ffffff"},
 "encoding":{"x":{"datum":98,"type":"quantitative","axis":null},"y":{"datum":1347.6,"type":"quantitative","axis":null}}},
{"data":{"values":[{"w":"t"}]},"mark":{"type":"text","text":"1195","align":"center","baseline":"middle","fontSize":11,"fontWeight":"bold","color":"#ffffff"},
 "encoding":{"x":{"datum":20,"type":"quantitative","axis":null},"y":{"datum":1335.2,"type":"quantitative","axis":null}}},
{"data":{"values":[{"w":"t"}]},"mark":{"type":"text","text":"96","align":"center","baseline":"middle","fontSize":31,"color":"#ffffff"},
 "encoding":{"x":{"datum":37.8,"type":"quantitative","axis":null},"y":{"datum":1337.5,"type":"quantitative","axis":null}}},
{"data":{"values":[{"w":"t"}]},"mark":{"type":"text","text":"1196","align":"center","baseline":"middle","fontSize":11,"fontWeight":"bold","color":"#ffffff"},
 "encoding":{"x":{"datum":75,"type":"quantitative","axis":null},"y":{"datum":1335.2,"type":"quantitative","axis":null}}},
{"data":{"values":[{"w":"t"}]},"mark":{"type":"text","text":"38","align":"center","baseline":"middle","fontSize":31,"color":"#ffffff"},
 "encoding":{"x":{"datum":93,"type":"quantitative","axis":null},"y":{"datum":1337.5,"type":"quantitative","axis":null}}}
]},
{"width":1568,"height":95,
"resolve":{"axis":{"x":"independent","y":"independent"}},
"layer":[
{"data":{"name":"bars"},"mark":{"type":"rule","strokeWidth":2,"color":"#007800"},
 "encoding":{
  "x":{"field":"i","type":"quantitative","scale":{"domain":[-0.5,783.5],"nice":false,"zero":false},
       "axis":{"orient":"bottom","title":null,"values":[0,32,64,96,128,160,192,224,256,288,320,352,384,416,448,480,512,544,576,608],
        "labelExpr":"['15 May 2018','22 May 08:00','29 May 16:00','6 Jun 00:00','13 Jun 08:00','20 Jun 16:00','28 Jun 00:00','5 Jul 08:00','12 Jul 16:00','20 Jul 00:00','27 Jul 08:00','3 Aug 16:00','13 Aug 00:00','20 Aug 08:00','27 Aug 16:00','4 Sep 00:00','11 Sep 08:00','18 Sep 16:00','26 Sep 00:00','3 Oct 08:00'][round(datum.value/32)]",
        "labelAlign":"left","labelBaseline":"top","labelOffset":1,"tickSize":4,"labelPadding":1,"labelOverlap":false,"labelBound":false,"labelFlush":false}},
  "y":{"field":"macd","type":"quantitative","scale":{"domain":[-10.72,7.37],"nice":false,"zero":false},
       "axis":{"orient":"right","title":null,"values":[6.17,0,-9.395],"labelExpr":"datum.value == 0 ? '0.00' : (datum.value > 0 ? '6.17' : '-9.395')","tickSize":2,"labelPadding":2,"labelBaseline":"middle","labelOverlap":false,"labelBound":false,"labelFlush":false}},
  "y2":{"datum":0}}},
{"data":{"name":"bars"},"mark":{"type":"line","color":"#ff0000","strokeWidth":1.2,"strokeDash":[2,3],"interpolate":"monotone"},
 "encoding":{"x":{"field":"i","type":"quantitative","axis":null},"y":{"field":"signal","type":"quantitative","axis":null}}},
{"data":{"values":[{"t":"macd"}]},"mark":{"type":"text","text":"MACD(12,26,9) 1.276 1.552","align":"left","baseline":"middle","fontSize":9,"color":"#000000"},
 "encoding":{"x":{"datum":2,"type":"quantitative","axis":null},"y":{"datum":5.8,"type":"quantitative","axis":null}}}
]}
]
}
